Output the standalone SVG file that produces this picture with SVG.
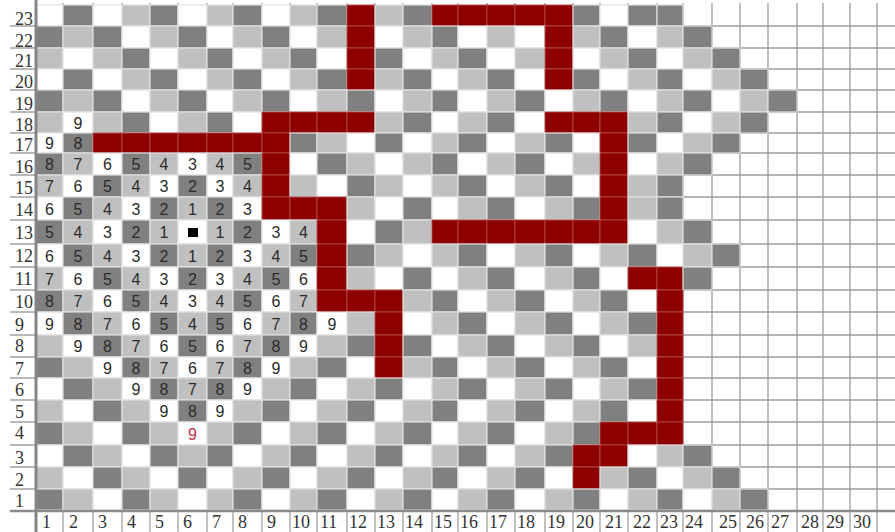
<svg xmlns="http://www.w3.org/2000/svg" width="895" height="532" viewBox="0 0 895 532">
<style>
.w{fill:#fff}.l{fill:#c0c0c0}.d{fill:#808080}
.cells rect{stroke:#e0e0e0;stroke-width:1.2}
.cells rect.r{fill:#8e0000;stroke:#b04a4a;stroke-width:0.9}
.grid line{stroke:#9c9c9c;stroke-width:1.3}
.tick line{stroke:#8a8a8a;stroke-width:1.2}
.n{font-family:"Liberation Sans",Arial,sans-serif;font-size:16px;fill:#2b2b2b;text-anchor:middle}
.lab{font-family:"Liberation Serif","Times New Roman",serif;font-size:18px;fill:#333}
</style>
<rect width="895" height="532" fill="#fff"/>
<g id="empty-grid" class="grid">
<line x1="63" y1="3" x2="63" y2="510"/><line x1="93" y1="3" x2="93" y2="510"/><line x1="122" y1="3" x2="122" y2="510"/><line x1="150" y1="3" x2="150" y2="510"/><line x1="178" y1="3" x2="178" y2="510"/><line x1="207" y1="3" x2="207" y2="510"/><line x1="233" y1="3" x2="233" y2="510"/><line x1="262" y1="3" x2="262" y2="510"/><line x1="290" y1="3" x2="290" y2="510"/><line x1="317" y1="3" x2="317" y2="510"/><line x1="347" y1="3" x2="347" y2="510"/><line x1="375" y1="3" x2="375" y2="510"/><line x1="403" y1="3" x2="403" y2="510"/><line x1="432" y1="3" x2="432" y2="510"/><line x1="458" y1="3" x2="458" y2="510"/><line x1="487" y1="3" x2="487" y2="510"/><line x1="515" y1="3" x2="515" y2="510"/><line x1="545" y1="3" x2="545" y2="510"/><line x1="573" y1="3" x2="573" y2="510"/><line x1="600" y1="3" x2="600" y2="510"/><line x1="628" y1="3" x2="628" y2="510"/><line x1="657" y1="3" x2="657" y2="510"/><line x1="683" y1="3" x2="683" y2="510"/><line x1="712" y1="3" x2="712" y2="510"/><line x1="740" y1="3" x2="740" y2="510"/><line x1="768" y1="3" x2="768" y2="510"/><line x1="797" y1="3" x2="797" y2="510"/><line x1="823" y1="3" x2="823" y2="510"/><line x1="850" y1="3" x2="850" y2="510"/><line x1="877" y1="3" x2="877" y2="510"/>
<line x1="36" y1="26" x2="895" y2="26"/><line x1="36" y1="48" x2="895" y2="48"/><line x1="36" y1="69" x2="895" y2="69"/><line x1="36" y1="90" x2="895" y2="90"/><line x1="36" y1="112" x2="895" y2="112"/><line x1="36" y1="133" x2="895" y2="133"/><line x1="36" y1="153" x2="895" y2="153"/><line x1="36" y1="175" x2="895" y2="175"/><line x1="36" y1="197" x2="895" y2="197"/><line x1="36" y1="220" x2="895" y2="220"/><line x1="36" y1="244" x2="895" y2="244"/><line x1="36" y1="267" x2="895" y2="267"/><line x1="36" y1="290" x2="895" y2="290"/><line x1="36" y1="312" x2="895" y2="312"/><line x1="36" y1="335" x2="895" y2="335"/><line x1="36" y1="357" x2="895" y2="357"/><line x1="36" y1="378" x2="895" y2="378"/><line x1="36" y1="400" x2="895" y2="400"/><line x1="36" y1="422" x2="895" y2="422"/><line x1="36" y1="445" x2="895" y2="445"/><line x1="36" y1="467" x2="895" y2="467"/><line x1="36" y1="489" x2="895" y2="489"/>
</g>
<g id="row-labels" class="lab">
<text x="15" y="25">23</text><text x="15" y="47">22</text><text x="15" y="67">21</text><text x="15" y="88">20</text><text x="15" y="110">19</text><text x="15" y="131">18</text><text x="15" y="151">17</text><text x="15" y="173">16</text><text x="15" y="194">15</text><text x="15" y="216">14</text><text x="15" y="239">13</text><text x="15" y="262">12</text><text x="15" y="285">11</text><text x="15" y="308">10</text><text x="15" y="331">9</text><text x="15" y="352">8</text><text x="15" y="375">7</text><text x="15" y="396">6</text><text x="15" y="418">5</text><text x="15" y="439">4</text><text x="15" y="464">3</text><text x="15" y="486">2</text><text x="15" y="507">1</text>
</g>
<g id="row-ticks" class="tick">
<line x1="10" y1="26" x2="36" y2="26"/><line x1="10" y1="48" x2="36" y2="48"/><line x1="10" y1="69" x2="36" y2="69"/><line x1="10" y1="90" x2="36" y2="90"/><line x1="10" y1="112" x2="36" y2="112"/><line x1="10" y1="133" x2="36" y2="133"/><line x1="10" y1="153" x2="36" y2="153"/><line x1="10" y1="175" x2="36" y2="175"/><line x1="10" y1="197" x2="36" y2="197"/><line x1="10" y1="220" x2="36" y2="220"/><line x1="10" y1="244" x2="36" y2="244"/><line x1="10" y1="267" x2="36" y2="267"/><line x1="10" y1="290" x2="36" y2="290"/><line x1="10" y1="312" x2="36" y2="312"/><line x1="10" y1="335" x2="36" y2="335"/><line x1="10" y1="357" x2="36" y2="357"/><line x1="10" y1="378" x2="36" y2="378"/><line x1="10" y1="400" x2="36" y2="400"/><line x1="10" y1="422" x2="36" y2="422"/><line x1="10" y1="445" x2="36" y2="445"/><line x1="10" y1="467" x2="36" y2="467"/><line x1="10" y1="489" x2="36" y2="489"/>
</g>
<g id="cells" class="cells">
<g id="r23" transform="translate(0 5)"><rect x="36" width="27" height="21" class="w"/><rect x="63" width="30" height="21" class="d"/><rect x="93" width="29" height="21" class="w"/><rect x="122" width="28" height="21" class="l"/><rect x="150" width="28" height="21" class="d"/><rect x="178" width="29" height="21" class="w"/><rect x="207" width="26" height="21" class="l"/><rect x="233" width="29" height="21" class="d"/><rect x="262" width="28" height="21" class="w"/><rect x="290" width="27" height="21" class="l"/><rect x="317" width="30" height="21" class="d"/><rect x="347" width="28" height="21" class="r"/><rect x="375" width="28" height="21" class="l"/><rect x="403" width="29" height="21" class="d"/><rect x="432" width="26" height="21" class="r"/><rect x="458" width="29" height="21" class="r"/><rect x="487" width="28" height="21" class="r"/><rect x="515" width="30" height="21" class="r"/><rect x="545" width="28" height="21" class="r"/><rect x="573" width="27" height="21" class="d"/><rect x="600" width="28" height="21" class="w"/><rect x="628" width="29" height="21" class="d"/><rect x="657" width="26" height="21" class="d"/></g>
<g id="r22" transform="translate(0 26)"><rect x="36" width="27" height="22" class="d"/><rect x="63" width="30" height="22" class="l"/><rect x="93" width="29" height="22" class="d"/><rect x="122" width="28" height="22" class="w"/><rect x="150" width="28" height="22" class="l"/><rect x="178" width="29" height="22" class="d"/><rect x="207" width="26" height="22" class="w"/><rect x="233" width="29" height="22" class="l"/><rect x="262" width="28" height="22" class="d"/><rect x="290" width="27" height="22" class="w"/><rect x="317" width="30" height="22" class="l"/><rect x="347" width="28" height="22" class="r"/><rect x="375" width="28" height="22" class="w"/><rect x="403" width="29" height="22" class="l"/><rect x="432" width="26" height="22" class="d"/><rect x="458" width="29" height="22" class="w"/><rect x="487" width="28" height="22" class="l"/><rect x="515" width="30" height="22" class="w"/><rect x="545" width="28" height="22" class="r"/><rect x="573" width="27" height="22" class="l"/><rect x="600" width="28" height="22" class="d"/><rect x="628" width="29" height="22" class="w"/><rect x="657" width="26" height="22" class="l"/><rect x="683" width="29" height="22" class="d"/></g>
<g id="r21" transform="translate(0 48)"><rect x="36" width="27" height="21" class="l"/><rect x="63" width="30" height="21" class="w"/><rect x="93" width="29" height="21" class="l"/><rect x="122" width="28" height="21" class="d"/><rect x="150" width="28" height="21" class="w"/><rect x="178" width="29" height="21" class="l"/><rect x="207" width="26" height="21" class="d"/><rect x="233" width="29" height="21" class="w"/><rect x="262" width="28" height="21" class="l"/><rect x="290" width="27" height="21" class="d"/><rect x="317" width="30" height="21" class="w"/><rect x="347" width="28" height="21" class="r"/><rect x="375" width="28" height="21" class="d"/><rect x="403" width="29" height="21" class="w"/><rect x="432" width="26" height="21" class="l"/><rect x="458" width="29" height="21" class="d"/><rect x="487" width="28" height="21" class="w"/><rect x="515" width="30" height="21" class="l"/><rect x="545" width="28" height="21" class="r"/><rect x="573" width="27" height="21" class="w"/><rect x="600" width="28" height="21" class="l"/><rect x="628" width="29" height="21" class="d"/><rect x="657" width="26" height="21" class="w"/><rect x="683" width="29" height="21" class="l"/><rect x="712" width="28" height="21" class="d"/></g>
<g id="r20" transform="translate(0 69)"><rect x="36" width="27" height="21" class="w"/><rect x="63" width="30" height="21" class="d"/><rect x="93" width="29" height="21" class="w"/><rect x="122" width="28" height="21" class="l"/><rect x="150" width="28" height="21" class="d"/><rect x="178" width="29" height="21" class="w"/><rect x="207" width="26" height="21" class="l"/><rect x="233" width="29" height="21" class="d"/><rect x="262" width="28" height="21" class="w"/><rect x="290" width="27" height="21" class="l"/><rect x="317" width="30" height="21" class="d"/><rect x="347" width="28" height="21" class="r"/><rect x="375" width="28" height="21" class="l"/><rect x="403" width="29" height="21" class="d"/><rect x="432" width="26" height="21" class="w"/><rect x="458" width="29" height="21" class="l"/><rect x="487" width="28" height="21" class="d"/><rect x="515" width="30" height="21" class="w"/><rect x="545" width="28" height="21" class="r"/><rect x="573" width="27" height="21" class="d"/><rect x="600" width="28" height="21" class="w"/><rect x="628" width="29" height="21" class="l"/><rect x="657" width="26" height="21" class="d"/><rect x="683" width="29" height="21" class="w"/><rect x="712" width="28" height="21" class="l"/><rect x="740" width="28" height="21" class="d"/></g>
<g id="r19" transform="translate(0 90)"><rect x="36" width="27" height="22" class="d"/><rect x="63" width="30" height="22" class="l"/><rect x="93" width="29" height="22" class="d"/><rect x="122" width="28" height="22" class="w"/><rect x="150" width="28" height="22" class="l"/><rect x="178" width="29" height="22" class="d"/><rect x="207" width="26" height="22" class="w"/><rect x="233" width="29" height="22" class="l"/><rect x="262" width="28" height="22" class="d"/><rect x="290" width="27" height="22" class="w"/><rect x="317" width="30" height="22" class="l"/><rect x="347" width="28" height="22" class="d"/><rect x="375" width="28" height="22" class="w"/><rect x="403" width="29" height="22" class="l"/><rect x="432" width="26" height="22" class="d"/><rect x="458" width="29" height="22" class="w"/><rect x="487" width="28" height="22" class="l"/><rect x="515" width="30" height="22" class="d"/><rect x="545" width="28" height="22" class="w"/><rect x="573" width="27" height="22" class="l"/><rect x="600" width="28" height="22" class="d"/><rect x="628" width="29" height="22" class="w"/><rect x="657" width="26" height="22" class="l"/><rect x="683" width="29" height="22" class="d"/><rect x="712" width="28" height="22" class="w"/><rect x="740" width="28" height="22" class="l"/><rect x="768" width="29" height="22" class="d"/></g>
<g id="r18" transform="translate(0 112)"><rect x="36" width="27" height="21" class="l"/><rect x="63" width="30" height="21" class="w"/><rect x="93" width="29" height="21" class="l"/><rect x="122" width="28" height="21" class="d"/><rect x="150" width="28" height="21" class="w"/><rect x="178" width="29" height="21" class="l"/><rect x="207" width="26" height="21" class="d"/><rect x="233" width="29" height="21" class="w"/><rect x="262" width="28" height="21" class="r"/><rect x="290" width="27" height="21" class="r"/><rect x="317" width="30" height="21" class="r"/><rect x="347" width="28" height="21" class="r"/><rect x="375" width="28" height="21" class="l"/><rect x="403" width="29" height="21" class="d"/><rect x="432" width="26" height="21" class="w"/><rect x="458" width="29" height="21" class="l"/><rect x="487" width="28" height="21" class="d"/><rect x="515" width="30" height="21" class="w"/><rect x="545" width="28" height="21" class="r"/><rect x="573" width="27" height="21" class="r"/><rect x="600" width="28" height="21" class="r"/><rect x="628" width="29" height="21" class="l"/><rect x="657" width="26" height="21" class="d"/><rect x="683" width="29" height="21" class="w"/><rect x="712" width="28" height="21" class="l"/><rect x="740" width="28" height="21" class="d"/></g>
<g id="r17" transform="translate(0 133)"><rect x="36" width="27" height="20" class="w"/><rect x="63" width="30" height="20" class="d"/><rect x="93" width="29" height="20" class="r"/><rect x="122" width="28" height="20" class="r"/><rect x="150" width="28" height="20" class="r"/><rect x="178" width="29" height="20" class="r"/><rect x="207" width="26" height="20" class="r"/><rect x="233" width="29" height="20" class="r"/><rect x="262" width="28" height="20" class="r"/><rect x="290" width="27" height="20" class="d"/><rect x="317" width="30" height="20" class="l"/><rect x="347" width="28" height="20" class="w"/><rect x="375" width="28" height="20" class="d"/><rect x="403" width="29" height="20" class="w"/><rect x="432" width="26" height="20" class="l"/><rect x="458" width="29" height="20" class="d"/><rect x="487" width="28" height="20" class="w"/><rect x="515" width="30" height="20" class="l"/><rect x="545" width="28" height="20" class="d"/><rect x="573" width="27" height="20" class="w"/><rect x="600" width="28" height="20" class="r"/><rect x="628" width="29" height="20" class="d"/><rect x="657" width="26" height="20" class="w"/><rect x="683" width="29" height="20" class="l"/><rect x="712" width="28" height="20" class="d"/></g>
<g id="r16" transform="translate(0 153)"><rect x="36" width="27" height="22" class="d"/><rect x="63" width="30" height="22" class="l"/><rect x="93" width="29" height="22" class="w"/><rect x="122" width="28" height="22" class="d"/><rect x="150" width="28" height="22" class="l"/><rect x="178" width="29" height="22" class="w"/><rect x="207" width="26" height="22" class="l"/><rect x="233" width="29" height="22" class="d"/><rect x="262" width="28" height="22" class="r"/><rect x="290" width="27" height="22" class="w"/><rect x="317" width="30" height="22" class="d"/><rect x="347" width="28" height="22" class="l"/><rect x="375" width="28" height="22" class="w"/><rect x="403" width="29" height="22" class="l"/><rect x="432" width="26" height="22" class="d"/><rect x="458" width="29" height="22" class="w"/><rect x="487" width="28" height="22" class="l"/><rect x="515" width="30" height="22" class="d"/><rect x="545" width="28" height="22" class="w"/><rect x="573" width="27" height="22" class="l"/><rect x="600" width="28" height="22" class="r"/><rect x="628" width="29" height="22" class="w"/><rect x="657" width="26" height="22" class="l"/><rect x="683" width="29" height="22" class="d"/></g>
<g id="r15" transform="translate(0 175)"><rect x="36" width="27" height="22" class="l"/><rect x="63" width="30" height="22" class="w"/><rect x="93" width="29" height="22" class="d"/><rect x="122" width="28" height="22" class="l"/><rect x="150" width="28" height="22" class="w"/><rect x="178" width="29" height="22" class="d"/><rect x="207" width="26" height="22" class="w"/><rect x="233" width="29" height="22" class="l"/><rect x="262" width="28" height="22" class="r"/><rect x="290" width="27" height="22" class="l"/><rect x="317" width="30" height="22" class="w"/><rect x="347" width="28" height="22" class="d"/><rect x="375" width="28" height="22" class="l"/><rect x="403" width="29" height="22" class="w"/><rect x="432" width="26" height="22" class="l"/><rect x="458" width="29" height="22" class="d"/><rect x="487" width="28" height="22" class="w"/><rect x="515" width="30" height="22" class="l"/><rect x="545" width="28" height="22" class="d"/><rect x="573" width="27" height="22" class="w"/><rect x="600" width="28" height="22" class="r"/><rect x="628" width="29" height="22" class="l"/><rect x="657" width="26" height="22" class="d"/></g>
<g id="r14" transform="translate(0 197)"><rect x="36" width="27" height="23" class="w"/><rect x="63" width="30" height="23" class="d"/><rect x="93" width="29" height="23" class="l"/><rect x="122" width="28" height="23" class="w"/><rect x="150" width="28" height="23" class="d"/><rect x="178" width="29" height="23" class="l"/><rect x="207" width="26" height="23" class="d"/><rect x="233" width="29" height="23" class="w"/><rect x="262" width="28" height="23" class="r"/><rect x="290" width="27" height="23" class="r"/><rect x="317" width="30" height="23" class="r"/><rect x="347" width="28" height="23" class="l"/><rect x="375" width="28" height="23" class="w"/><rect x="403" width="29" height="23" class="d"/><rect x="432" width="26" height="23" class="w"/><rect x="458" width="29" height="23" class="l"/><rect x="487" width="28" height="23" class="d"/><rect x="515" width="30" height="23" class="w"/><rect x="545" width="28" height="23" class="l"/><rect x="573" width="27" height="23" class="d"/><rect x="600" width="28" height="23" class="r"/><rect x="628" width="29" height="23" class="l"/><rect x="657" width="26" height="23" class="d"/></g>
<g id="r13" transform="translate(0 220)"><rect x="36" width="27" height="24" class="d"/><rect x="63" width="30" height="24" class="l"/><rect x="93" width="29" height="24" class="w"/><rect x="122" width="28" height="24" class="d"/><rect x="150" width="28" height="24" class="l"/><rect x="178" width="29" height="24" class="w"/><rect x="207" width="26" height="24" class="l"/><rect x="233" width="29" height="24" class="d"/><rect x="262" width="28" height="24" class="w"/><rect x="290" width="27" height="24" class="l"/><rect x="317" width="30" height="24" class="r"/><rect x="347" width="28" height="24" class="w"/><rect x="375" width="28" height="24" class="d"/><rect x="403" width="29" height="24" class="l"/><rect x="432" width="26" height="24" class="r"/><rect x="458" width="29" height="24" class="r"/><rect x="487" width="28" height="24" class="r"/><rect x="515" width="30" height="24" class="r"/><rect x="545" width="28" height="24" class="r"/><rect x="573" width="27" height="24" class="r"/><rect x="600" width="28" height="24" class="r"/><rect x="628" width="29" height="24" class="w"/><rect x="657" width="26" height="24" class="l"/><rect x="683" width="29" height="24" class="d"/></g>
<g id="r12" transform="translate(0 244)"><rect x="36" width="27" height="23" class="w"/><rect x="63" width="30" height="23" class="d"/><rect x="93" width="29" height="23" class="l"/><rect x="122" width="28" height="23" class="w"/><rect x="150" width="28" height="23" class="d"/><rect x="178" width="29" height="23" class="l"/><rect x="207" width="26" height="23" class="d"/><rect x="233" width="29" height="23" class="w"/><rect x="262" width="28" height="23" class="l"/><rect x="290" width="27" height="23" class="d"/><rect x="317" width="30" height="23" class="r"/><rect x="347" width="28" height="23" class="d"/><rect x="375" width="28" height="23" class="l"/><rect x="403" width="29" height="23" class="w"/><rect x="432" width="26" height="23" class="l"/><rect x="458" width="29" height="23" class="d"/><rect x="487" width="28" height="23" class="w"/><rect x="515" width="30" height="23" class="l"/><rect x="545" width="28" height="23" class="d"/><rect x="573" width="27" height="23" class="w"/><rect x="600" width="28" height="23" class="l"/><rect x="628" width="29" height="23" class="d"/><rect x="657" width="26" height="23" class="w"/><rect x="683" width="29" height="23" class="l"/><rect x="712" width="28" height="23" class="d"/></g>
<g id="r11" transform="translate(0 267)"><rect x="36" width="27" height="23" class="l"/><rect x="63" width="30" height="23" class="w"/><rect x="93" width="29" height="23" class="d"/><rect x="122" width="28" height="23" class="l"/><rect x="150" width="28" height="23" class="w"/><rect x="178" width="29" height="23" class="d"/><rect x="207" width="26" height="23" class="w"/><rect x="233" width="29" height="23" class="l"/><rect x="262" width="28" height="23" class="d"/><rect x="290" width="27" height="23" class="w"/><rect x="317" width="30" height="23" class="r"/><rect x="347" width="28" height="23" class="l"/><rect x="375" width="28" height="23" class="w"/><rect x="403" width="29" height="23" class="d"/><rect x="432" width="26" height="23" class="w"/><rect x="458" width="29" height="23" class="l"/><rect x="487" width="28" height="23" class="d"/><rect x="515" width="30" height="23" class="w"/><rect x="545" width="28" height="23" class="l"/><rect x="573" width="27" height="23" class="d"/><rect x="600" width="28" height="23" class="w"/><rect x="628" width="29" height="23" class="r"/><rect x="657" width="26" height="23" class="r"/><rect x="683" width="29" height="23" class="d"/></g>
<g id="r10" transform="translate(0 290)"><rect x="36" width="27" height="22" class="d"/><rect x="63" width="30" height="22" class="l"/><rect x="93" width="29" height="22" class="w"/><rect x="122" width="28" height="22" class="d"/><rect x="150" width="28" height="22" class="l"/><rect x="178" width="29" height="22" class="w"/><rect x="207" width="26" height="22" class="l"/><rect x="233" width="29" height="22" class="d"/><rect x="262" width="28" height="22" class="w"/><rect x="290" width="27" height="22" class="l"/><rect x="317" width="30" height="22" class="r"/><rect x="347" width="28" height="22" class="r"/><rect x="375" width="28" height="22" class="r"/><rect x="403" width="29" height="22" class="l"/><rect x="432" width="26" height="22" class="d"/><rect x="458" width="29" height="22" class="w"/><rect x="487" width="28" height="22" class="l"/><rect x="515" width="30" height="22" class="d"/><rect x="545" width="28" height="22" class="w"/><rect x="573" width="27" height="22" class="l"/><rect x="600" width="28" height="22" class="d"/><rect x="628" width="29" height="22" class="w"/><rect x="657" width="26" height="22" class="r"/></g>
<g id="r9" transform="translate(0 312)"><rect x="36" width="27" height="23" class="w"/><rect x="63" width="30" height="23" class="d"/><rect x="93" width="29" height="23" class="l"/><rect x="122" width="28" height="23" class="w"/><rect x="150" width="28" height="23" class="d"/><rect x="178" width="29" height="23" class="l"/><rect x="207" width="26" height="23" class="d"/><rect x="233" width="29" height="23" class="w"/><rect x="262" width="28" height="23" class="l"/><rect x="290" width="27" height="23" class="d"/><rect x="317" width="30" height="23" class="w"/><rect x="347" width="28" height="23" class="l"/><rect x="375" width="28" height="23" class="r"/><rect x="403" width="29" height="23" class="w"/><rect x="432" width="26" height="23" class="l"/><rect x="458" width="29" height="23" class="d"/><rect x="487" width="28" height="23" class="w"/><rect x="515" width="30" height="23" class="l"/><rect x="545" width="28" height="23" class="d"/><rect x="573" width="27" height="23" class="w"/><rect x="600" width="28" height="23" class="l"/><rect x="628" width="29" height="23" class="d"/><rect x="657" width="26" height="23" class="r"/></g>
<g id="r8" transform="translate(0 335)"><rect x="36" width="27" height="22" class="l"/><rect x="63" width="30" height="22" class="w"/><rect x="93" width="29" height="22" class="d"/><rect x="122" width="28" height="22" class="l"/><rect x="150" width="28" height="22" class="w"/><rect x="178" width="29" height="22" class="d"/><rect x="207" width="26" height="22" class="w"/><rect x="233" width="29" height="22" class="l"/><rect x="262" width="28" height="22" class="d"/><rect x="290" width="27" height="22" class="w"/><rect x="317" width="30" height="22" class="l"/><rect x="347" width="28" height="22" class="d"/><rect x="375" width="28" height="22" class="r"/><rect x="403" width="29" height="22" class="d"/><rect x="432" width="26" height="22" class="w"/><rect x="458" width="29" height="22" class="l"/><rect x="487" width="28" height="22" class="d"/><rect x="515" width="30" height="22" class="w"/><rect x="545" width="28" height="22" class="l"/><rect x="573" width="27" height="22" class="d"/><rect x="600" width="28" height="22" class="w"/><rect x="628" width="29" height="22" class="l"/><rect x="657" width="26" height="22" class="r"/></g>
<g id="r7" transform="translate(0 357)"><rect x="36" width="27" height="21" class="d"/><rect x="63" width="30" height="21" class="l"/><rect x="93" width="29" height="21" class="w"/><rect x="122" width="28" height="21" class="d"/><rect x="150" width="28" height="21" class="l"/><rect x="178" width="29" height="21" class="w"/><rect x="207" width="26" height="21" class="l"/><rect x="233" width="29" height="21" class="d"/><rect x="262" width="28" height="21" class="w"/><rect x="290" width="27" height="21" class="l"/><rect x="317" width="30" height="21" class="d"/><rect x="347" width="28" height="21" class="w"/><rect x="375" width="28" height="21" class="r"/><rect x="403" width="29" height="21" class="l"/><rect x="432" width="26" height="21" class="d"/><rect x="458" width="29" height="21" class="w"/><rect x="487" width="28" height="21" class="l"/><rect x="515" width="30" height="21" class="d"/><rect x="545" width="28" height="21" class="w"/><rect x="573" width="27" height="21" class="l"/><rect x="600" width="28" height="21" class="d"/><rect x="628" width="29" height="21" class="w"/><rect x="657" width="26" height="21" class="r"/></g>
<g id="r6" transform="translate(0 378)"><rect x="36" width="27" height="22" class="w"/><rect x="63" width="30" height="22" class="d"/><rect x="93" width="29" height="22" class="l"/><rect x="122" width="28" height="22" class="w"/><rect x="150" width="28" height="22" class="d"/><rect x="178" width="29" height="22" class="l"/><rect x="207" width="26" height="22" class="d"/><rect x="233" width="29" height="22" class="w"/><rect x="262" width="28" height="22" class="l"/><rect x="290" width="27" height="22" class="d"/><rect x="317" width="30" height="22" class="w"/><rect x="347" width="28" height="22" class="l"/><rect x="375" width="28" height="22" class="d"/><rect x="403" width="29" height="22" class="w"/><rect x="432" width="26" height="22" class="l"/><rect x="458" width="29" height="22" class="d"/><rect x="487" width="28" height="22" class="w"/><rect x="515" width="30" height="22" class="l"/><rect x="545" width="28" height="22" class="d"/><rect x="573" width="27" height="22" class="w"/><rect x="600" width="28" height="22" class="l"/><rect x="628" width="29" height="22" class="d"/><rect x="657" width="26" height="22" class="r"/></g>
<g id="r5" transform="translate(0 400)"><rect x="36" width="27" height="22" class="l"/><rect x="63" width="30" height="22" class="w"/><rect x="93" width="29" height="22" class="d"/><rect x="122" width="28" height="22" class="l"/><rect x="150" width="28" height="22" class="w"/><rect x="178" width="29" height="22" class="d"/><rect x="207" width="26" height="22" class="w"/><rect x="233" width="29" height="22" class="l"/><rect x="262" width="28" height="22" class="d"/><rect x="290" width="27" height="22" class="w"/><rect x="317" width="30" height="22" class="l"/><rect x="347" width="28" height="22" class="d"/><rect x="375" width="28" height="22" class="w"/><rect x="403" width="29" height="22" class="l"/><rect x="432" width="26" height="22" class="d"/><rect x="458" width="29" height="22" class="w"/><rect x="487" width="28" height="22" class="l"/><rect x="515" width="30" height="22" class="d"/><rect x="545" width="28" height="22" class="w"/><rect x="573" width="27" height="22" class="l"/><rect x="600" width="28" height="22" class="d"/><rect x="628" width="29" height="22" class="w"/><rect x="657" width="26" height="22" class="r"/></g>
<g id="r4" transform="translate(0 422)"><rect x="36" width="27" height="23" class="d"/><rect x="63" width="30" height="23" class="l"/><rect x="93" width="29" height="23" class="w"/><rect x="122" width="28" height="23" class="d"/><rect x="150" width="28" height="23" class="l"/><rect x="178" width="29" height="23" class="w"/><rect x="207" width="26" height="23" class="l"/><rect x="233" width="29" height="23" class="d"/><rect x="262" width="28" height="23" class="w"/><rect x="290" width="27" height="23" class="l"/><rect x="317" width="30" height="23" class="d"/><rect x="347" width="28" height="23" class="w"/><rect x="375" width="28" height="23" class="l"/><rect x="403" width="29" height="23" class="d"/><rect x="432" width="26" height="23" class="w"/><rect x="458" width="29" height="23" class="l"/><rect x="487" width="28" height="23" class="d"/><rect x="515" width="30" height="23" class="w"/><rect x="545" width="28" height="23" class="l"/><rect x="573" width="27" height="23" class="d"/><rect x="600" width="28" height="23" class="r"/><rect x="628" width="29" height="23" class="r"/><rect x="657" width="26" height="23" class="r"/></g>
<g id="r3" transform="translate(0 445)"><rect x="36" width="27" height="22" class="w"/><rect x="63" width="30" height="22" class="d"/><rect x="93" width="29" height="22" class="l"/><rect x="122" width="28" height="22" class="w"/><rect x="150" width="28" height="22" class="d"/><rect x="178" width="29" height="22" class="l"/><rect x="207" width="26" height="22" class="d"/><rect x="233" width="29" height="22" class="w"/><rect x="262" width="28" height="22" class="l"/><rect x="290" width="27" height="22" class="d"/><rect x="317" width="30" height="22" class="w"/><rect x="347" width="28" height="22" class="l"/><rect x="375" width="28" height="22" class="d"/><rect x="403" width="29" height="22" class="w"/><rect x="432" width="26" height="22" class="l"/><rect x="458" width="29" height="22" class="d"/><rect x="487" width="28" height="22" class="w"/><rect x="515" width="30" height="22" class="l"/><rect x="545" width="28" height="22" class="d"/><rect x="573" width="27" height="22" class="r"/><rect x="600" width="28" height="22" class="r"/><rect x="628" width="29" height="22" class="w"/><rect x="657" width="26" height="22" class="l"/><rect x="683" width="29" height="22" class="d"/></g>
<g id="r2" transform="translate(0 467)"><rect x="36" width="27" height="22" class="l"/><rect x="63" width="30" height="22" class="w"/><rect x="93" width="29" height="22" class="d"/><rect x="122" width="28" height="22" class="l"/><rect x="150" width="28" height="22" class="w"/><rect x="178" width="29" height="22" class="d"/><rect x="207" width="26" height="22" class="w"/><rect x="233" width="29" height="22" class="l"/><rect x="262" width="28" height="22" class="d"/><rect x="290" width="27" height="22" class="w"/><rect x="317" width="30" height="22" class="l"/><rect x="347" width="28" height="22" class="d"/><rect x="375" width="28" height="22" class="w"/><rect x="403" width="29" height="22" class="l"/><rect x="432" width="26" height="22" class="d"/><rect x="458" width="29" height="22" class="w"/><rect x="487" width="28" height="22" class="l"/><rect x="515" width="30" height="22" class="d"/><rect x="545" width="28" height="22" class="w"/><rect x="573" width="27" height="22" class="r"/><rect x="600" width="28" height="22" class="l"/><rect x="628" width="29" height="22" class="d"/><rect x="657" width="26" height="22" class="w"/><rect x="683" width="29" height="22" class="l"/><rect x="712" width="28" height="22" class="d"/></g>
<g id="r1" transform="translate(0 489)"><rect x="36" width="27" height="21" class="d"/><rect x="63" width="30" height="21" class="l"/><rect x="93" width="29" height="21" class="w"/><rect x="122" width="28" height="21" class="d"/><rect x="150" width="28" height="21" class="l"/><rect x="178" width="29" height="21" class="w"/><rect x="207" width="26" height="21" class="l"/><rect x="233" width="29" height="21" class="d"/><rect x="262" width="28" height="21" class="w"/><rect x="290" width="27" height="21" class="l"/><rect x="317" width="30" height="21" class="d"/><rect x="347" width="28" height="21" class="w"/><rect x="375" width="28" height="21" class="l"/><rect x="403" width="29" height="21" class="d"/><rect x="432" width="26" height="21" class="w"/><rect x="458" width="29" height="21" class="l"/><rect x="487" width="28" height="21" class="d"/><rect x="515" width="30" height="21" class="w"/><rect x="545" width="28" height="21" class="l"/><rect x="573" width="27" height="21" class="d"/><rect x="600" width="28" height="21" class="w"/><rect x="628" width="29" height="21" class="l"/><rect x="657" width="26" height="21" class="d"/><rect x="683" width="29" height="21" class="w"/><rect x="712" width="28" height="21" class="l"/><rect x="740" width="28" height="21" class="d"/></g>
</g>
<g id="axes">
<line x1="36" y1="0" x2="36" y2="532" stroke="#858585" stroke-width="3"/>
<line x1="10" y1="511" x2="895" y2="511" stroke="#8a8a8a" stroke-width="2.5"/>
<g stroke="#a0a0a0" stroke-width="1.3">
<line x1="63" y1="512" x2="63" y2="532"/><line x1="93" y1="512" x2="93" y2="532"/><line x1="122" y1="512" x2="122" y2="532"/><line x1="150" y1="512" x2="150" y2="532"/><line x1="178" y1="512" x2="178" y2="532"/><line x1="207" y1="512" x2="207" y2="532"/><line x1="233" y1="512" x2="233" y2="532"/><line x1="262" y1="512" x2="262" y2="532"/><line x1="290" y1="512" x2="290" y2="532"/><line x1="317" y1="512" x2="317" y2="532"/><line x1="347" y1="512" x2="347" y2="532"/><line x1="375" y1="512" x2="375" y2="532"/><line x1="403" y1="512" x2="403" y2="532"/><line x1="432" y1="512" x2="432" y2="532"/><line x1="458" y1="512" x2="458" y2="532"/><line x1="487" y1="512" x2="487" y2="532"/><line x1="515" y1="512" x2="515" y2="532"/><line x1="545" y1="512" x2="545" y2="532"/><line x1="573" y1="512" x2="573" y2="532"/><line x1="600" y1="512" x2="600" y2="532"/><line x1="628" y1="512" x2="628" y2="532"/><line x1="657" y1="512" x2="657" y2="532"/><line x1="683" y1="512" x2="683" y2="532"/><line x1="712" y1="512" x2="712" y2="532"/><line x1="740" y1="512" x2="740" y2="532"/><line x1="768" y1="512" x2="768" y2="532"/><line x1="797" y1="512" x2="797" y2="532"/><line x1="823" y1="512" x2="823" y2="532"/><line x1="850" y1="512" x2="850" y2="532"/><line x1="877" y1="512" x2="877" y2="532"/>
</g>
</g>
<g id="col-labels" class="lab">
<text x="42" y="528">1</text><text x="69" y="528">2</text><text x="98" y="528">3</text><text x="127" y="528">4</text><text x="155" y="528">5</text><text x="183" y="528">6</text><text x="212" y="528">7</text><text x="238" y="528">8</text><text x="267" y="528">9</text><text x="292" y="528">10</text><text x="320" y="528">11</text><text x="349" y="528">12</text><text x="377" y="528">13</text><text x="405" y="528">14</text><text x="434" y="528">15</text><text x="460" y="528">16</text><text x="489" y="528">17</text><text x="517" y="528">18</text><text x="547" y="528">19</text><text x="576" y="528">20</text><text x="605" y="528">21</text><text x="633" y="528">22</text><text x="660" y="528">23</text><text x="685" y="528">24</text><text x="719" y="528">25</text><text x="746" y="528">26</text><text x="771" y="528">27</text><text x="801" y="528">28</text><text x="826" y="528">29</text><text x="853" y="528">30</text>
</g>
<g id="numbers" class="n">
<text x="78" y="128.5">9</text>
<text x="49.5" y="149">9</text><text x="78" y="149">8</text>
<text x="49.5" y="170">8</text><text x="78" y="170">7</text><text x="107.5" y="170">6</text><text x="136" y="170">5</text><text x="164" y="170">4</text><text x="192.5" y="170">3</text><text x="220" y="170">4</text><text x="247.5" y="170">5</text>
<text x="49.5" y="192">7</text><text x="78" y="192">6</text><text x="107.5" y="192">5</text><text x="136" y="192">4</text><text x="164" y="192">3</text><text x="192.5" y="192">2</text><text x="220" y="192">3</text><text x="247.5" y="192">4</text>
<text x="49.5" y="214.5">6</text><text x="78" y="214.5">5</text><text x="107.5" y="214.5">4</text><text x="136" y="214.5">3</text><text x="164" y="214.5">2</text><text x="192.5" y="214.5">1</text><text x="220" y="214.5">2</text><text x="247.5" y="214.5">3</text>
<text x="49.5" y="238">5</text><text x="78" y="238">4</text><text x="107.5" y="238">3</text><text x="136" y="238">2</text><text x="164" y="238">1</text><text x="220" y="238">1</text><text x="247.5" y="238">2</text><text x="276" y="238">3</text><text x="303.5" y="238">4</text>
<text x="49.5" y="261.5">6</text><text x="78" y="261.5">5</text><text x="107.5" y="261.5">4</text><text x="136" y="261.5">3</text><text x="164" y="261.5">2</text><text x="192.5" y="261.5">1</text><text x="220" y="261.5">2</text><text x="247.5" y="261.5">3</text><text x="276" y="261.5">4</text><text x="303.5" y="261.5">5</text>
<text x="49.5" y="284.5">7</text><text x="78" y="284.5">6</text><text x="107.5" y="284.5">5</text><text x="136" y="284.5">4</text><text x="164" y="284.5">3</text><text x="192.5" y="284.5">2</text><text x="220" y="284.5">3</text><text x="247.5" y="284.5">4</text><text x="276" y="284.5">5</text><text x="303.5" y="284.5">6</text>
<text x="49.5" y="307">8</text><text x="78" y="307">7</text><text x="107.5" y="307">6</text><text x="136" y="307">5</text><text x="164" y="307">4</text><text x="192.5" y="307">3</text><text x="220" y="307">4</text><text x="247.5" y="307">5</text><text x="276" y="307">6</text><text x="303.5" y="307">7</text>
<text x="49.5" y="329.5">9</text><text x="78" y="329.5">8</text><text x="107.5" y="329.5">7</text><text x="136" y="329.5">6</text><text x="164" y="329.5">5</text><text x="192.5" y="329.5">4</text><text x="220" y="329.5">5</text><text x="247.5" y="329.5">6</text><text x="276" y="329.5">7</text><text x="303.5" y="329.5">8</text><text x="332" y="329.5">9</text>
<text x="78" y="352">9</text><text x="107.5" y="352">8</text><text x="136" y="352">7</text><text x="164" y="352">6</text><text x="192.5" y="352">5</text><text x="220" y="352">6</text><text x="247.5" y="352">7</text><text x="276" y="352">8</text><text x="303.5" y="352">9</text>
<text x="107.5" y="373.5">9</text><text x="136" y="373.5">8</text><text x="164" y="373.5">7</text><text x="192.5" y="373.5">6</text><text x="220" y="373.5">7</text><text x="247.5" y="373.5">8</text><text x="276" y="373.5">9</text>
<text x="136" y="395">9</text><text x="164" y="395">8</text><text x="192.5" y="395">7</text><text x="220" y="395">8</text><text x="247.5" y="395">9</text>
<text x="164" y="417">9</text><text x="192.5" y="417">8</text><text x="220" y="417">9</text>
<text x="192.5" y="439.5" fill="#c0304a">9</text>
</g>
<rect id="start" x="188" y="228" width="10" height="9" fill="#000"/>
</svg>
